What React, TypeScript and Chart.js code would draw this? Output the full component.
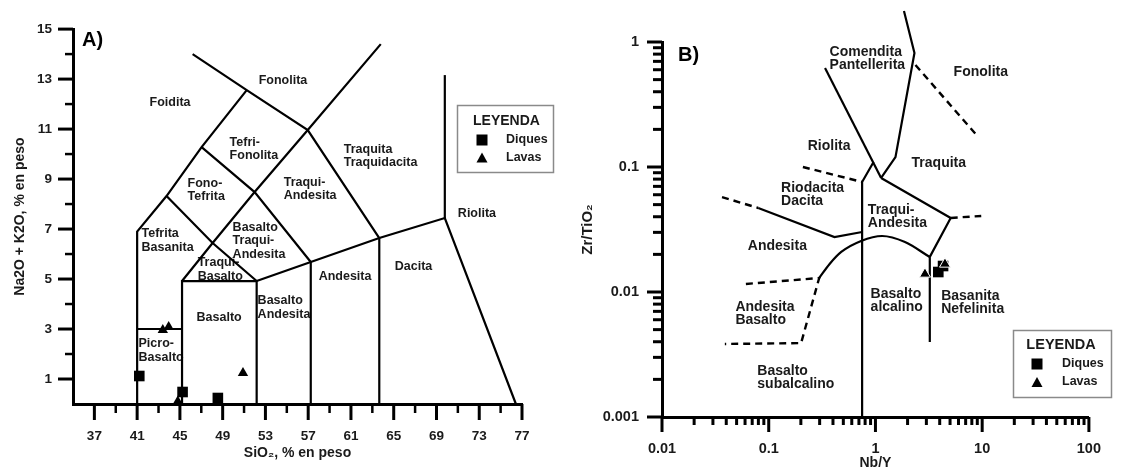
import React, { useEffect, useRef } from 'react';
import { Chart, registerables } from 'chart.js';

Chart.register(...registerables);

const FONT = '"Liberation Sans", Arial, Helvetica, sans-serif';
const TXT = '#1a1a1a';

// ---------------- Panel A: TAS diagram ----------------
const tasXLabels = [37, 41, 45, 49, 53, 57, 61, 65, 69, 73, 77];
const tasYLabels = [1, 3, 5, 7, 9, 11, 13, 15];

const diquesA_SiO2 = [41.2, 45.25, 48.55];
const diquesA_Alk = [1.12, 0.48, 0.24];
const lavasA_SiO2 = [43.4, 43.95, 44.8, 50.9];
const lavasA_Alk = [2.96, 3.08, 0.1, 1.24];

const tasFoiditeLine = [[41, 0], [41, 6.9], [43.75, 8.32], [47.03, 10.28], [51.25, 12.56]];
const tasPhonoliteLine = [[46.19, 14.0], [51.25, 12.56], [56.96, 10.96], [63.65, 6.64]];
const tasTephriteLine = [[43.75, 8.32], [48.06, 6.44], [52.18, 4.92]];
const tasPhonotephLine = [[47.03, 10.28], [51.99, 8.48], [57.24, 5.68]];
const tasDiagonalLine = [[45.2, 4.92], [48.06, 6.44], [51.99, 8.48], [56.96, 10.96], [63.79, 14.4]];
const tasPicroTop = [[41, 3.0], [45.2, 3.0]];
const tasBasaltBox = [[45.2, 0], [45.2, 4.92], [52.18, 4.92], [52.18, 0]];
const tasSubalkLine = [[52.18, 4.92], [57.24, 5.68], [63.65, 6.64], [69.78, 7.44], [76.43, 0]];
const tasAndesiteLeft = [[57.24, 0], [57.24, 5.68]];
const tasDaciteLeft = [[63.65, 0], [63.65, 6.64]];
const tasRhyoliteLine = [[69.78, 7.44], [69.78, 13.16]];

const tasFields = [
  { t: ['Foidita'], x: 42.16, y: 12.08 },
  { t: ['Fonolita'], x: 52.37, y: 12.96 },
  { t: ['Tefri-', 'Fonolita'], x: 49.65, y: 10.48 },
  { t: ['Fono-', 'Tefrita'], x: 45.72, y: 8.84 },
  { t: ['Tefrita', 'Basanita'], x: 41.41, y: 6.8 },
  { t: ['Basalto', 'Traqui-', 'Andesita'], x: 49.93, y: 7.08 },
  { t: ['Traqui-', 'Basalto'], x: 46.66, y: 5.64 },
  { t: ['Basalto'], x: 46.56, y: 3.44 },
  { t: ['Picro-', 'Basalto'], x: 41.13, y: 2.4 },
  { t: ['Basalto', 'Andesita'], x: 52.27, y: 4.12 },
  { t: ['Andesita'], x: 57.98, y: 5.08 },
  { t: ['Dacita'], x: 65.1, y: 5.48 },
  { t: ['Riolita'], x: 71.0, y: 7.64 },
  { t: ['Traqui-', 'Andesita'], x: 54.71, y: 8.88 },
  { t: ['Traquita', 'Traquidacita'], x: 60.33, y: 10.2 },
];

// ---------------- Panel B: Zr/TiO2 vs Nb/Y ----------------
const wfXLabels = [0.01, 0.1, 1, 10, 100];
const wfYLabels = [0.001, 0.01, 0.1, 1];

const diquesB_NbY = [3.88, 4.3];
const diquesB_ZrTi = [0.01445, 0.01614];
const lavasB_NbY = [2.91, 4.48];
const lavasB_ZrTi = [0.01393, 0.01675];

const wfComenditeRight = [[1.85, 1.77], [2.32, 0.817], [1.54, 0.12], [1.13, 0.0817]];
const wfComenditeLeft = [[0.337, 0.619], [1.13, 0.0817]];
const wfTrachyteBase = [[1.13, 0.0817], [5.07, 0.0391], [3.23, 0.0191], [3.23, 0.00398]];
const wfAlkaliLine = [[0.96, 0.1096], [0.75, 0.0759], [0.75, 0.001]];
const wfAndesiteTop = [[0.0798, 0.047], [0.413, 0.0275], [0.75, 0.0302]];
const wfBasaltCurve = [[0.297, 0.01294], [0.372, 0.01675], [0.478, 0.0209], [0.734, 0.0256], [1.155, 0.02805], [1.89, 0.0251], [3.23, 0.01905]];
const wfRhyoDash = [[0.209, 0.1], [0.75, 0.0759]];
const wfPhonoDash = [[2.37, 0.655], [8.84, 0.1803]];
const wfTrachyDash = [[5.07, 0.0391], [9.8, 0.0406]];
const wfAndesiteDash = [[0.0365, 0.0575], [0.0798, 0.047]];
const wfBasAndDash = [[0.0611, 0.01159], [0.297, 0.01294], [0.201, 0.0039], [0.0388, 0.00384]];

const wfFields = [
  { t: ['Comendita', 'Pantellerita'], x: 0.372, y: 0.832 },
  { t: ['Fonolita'], x: 5.4, y: 0.575 },
  { t: ['Riolita'], x: 0.232, y: 0.147 },
  { t: ['Traquita'], x: 2.18, y: 0.1076 },
  { t: ['Riodacita', 'Dacita'], x: 0.1306, y: 0.0679 },
  { t: ['Traqui-', 'Andesita'], x: 0.849, y: 0.0453 },
  { t: ['Andesita'], x: 0.0637, y: 0.0233 },
  { t: ['Andesita', 'Basalto'], x: 0.0487, y: 0.00759 },
  { t: ['Basalto', 'subalcalino'], x: 0.0782, y: 0.00233 },
  { t: ['Basalto', 'alcalino'], x: 0.901, y: 0.00964 },
  { t: ['Basanita', 'Nefelinita'], x: 4.13, y: 0.00929 },
];

const legendTitle = 'LEYENDA';
const seriesNames = ['Diques', 'Lavas'];

// ---------------- helpers ----------------
const toPts = (arr: number[][]) => arr.map(([x, y]) => ({ x, y }));
const zip = (xs: number[], ys: number[]) => xs.map((x, i) => ({ x, y: ys[i] }));

function lineDS(pts: number[][], dashed = false, smooth = false, width = 2.2) {
  return {
    data: toPts(pts),
    showLine: true,
    pointRadius: 0,
    borderColor: '#000',
    borderWidth: width,
    borderDash: dashed ? [7, 5] : [],
    tension: 0,
    cubicInterpolationMode: smooth ? 'monotone' : 'default',
    clip: false,
    fill: false,
    order: 5,
  };
}

const isPow10 = (v: number) => Math.abs(Math.log10(v) - Math.round(Math.log10(v))) < 1e-6;
const isNiceLog = (v: number) => {
  const e = Math.floor(Math.log10(v) + 1e-9);
  const m = v / Math.pow(10, e);
  return Math.abs(m - Math.round(m)) < 1e-6;
};

function tickPlugin(cfg: any) {
  return {
    id: 'customTicks',
    afterDraw(chart: any) {
      const ctx = chart.ctx;
      const xs = chart.scales.x;
      const ys = chart.scales.y;
      const area = chart.chartArea;
      ctx.save();
      ctx.strokeStyle = '#000';
      ctx.lineCap = 'butt';
      for (const t of xs.ticks) {
        const v = t.value;
        if (!cfg.xKeep(v)) continue;
        const maj = cfg.xMajor(v);
        const px = xs.getPixelForValue(v);
        ctx.lineWidth = maj ? cfg.w[0] : cfg.w[1];
        ctx.beginPath();
        ctx.moveTo(px, area.bottom);
        ctx.lineTo(px, area.bottom + (maj ? cfg.xLen[0] : cfg.xLen[1]));
        ctx.stroke();
      }
      for (const t of ys.ticks) {
        const v = t.value;
        if (!cfg.yKeep(v)) continue;
        const maj = cfg.yMajor(v);
        const py = ys.getPixelForValue(v);
        ctx.lineWidth = maj ? cfg.w[0] : cfg.w[1];
        ctx.beginPath();
        ctx.moveTo(area.left, py);
        ctx.lineTo(area.left - (maj ? cfg.yLen[0] : cfg.yLen[1]), py);
        ctx.stroke();
      }
      ctx.restore();
    },
  };
}

function labelPlugin(fields: any[], size: number, gap: number, panel: string, panelPos: number[]) {
  return {
    id: 'fieldLabels',
    beforeDatasetsDraw(chart: any) {
      const ctx = chart.ctx;
      const xs = chart.scales.x;
      const ys = chart.scales.y;
      ctx.save();
      ctx.fillStyle = TXT;
      ctx.textAlign = 'left';
      ctx.textBaseline = 'middle';
      ctx.font = `bold ${size}px ${FONT}`;
      for (const f of fields) {
        const px = xs.getPixelForValue(f.x);
        const py = ys.getPixelForValue(f.y);
        f.t.forEach((line: string, i: number) => ctx.fillText(line, px, py + i * gap));
      }
      ctx.font = `bold 20px ${FONT}`;
      ctx.fillStyle = '#000';
      ctx.fillText(panel, panelPos[0], panelPos[1]);
      ctx.restore();
    },
  };
}

function legendPlugin(L: any) {
  return {
    id: 'boxLegend',
    afterDraw(chart: any) {
      const ctx = chart.ctx;
      ctx.save();
      ctx.strokeStyle = '#8a8a8a';
      ctx.lineWidth = 1.5;
      ctx.strokeRect(L.x, L.y, L.w, L.h);
      ctx.fillStyle = TXT;
      ctx.textBaseline = 'middle';
      ctx.font = `bold ${L.titleSize}px ${FONT}`;
      ctx.textAlign = L.titleAlign;
      ctx.fillText(legendTitle, L.titleX, L.titleY);
      ctx.textAlign = 'left';
      ctx.font = `bold ${L.itemSize}px ${FONT}`;
      ctx.fillStyle = '#000';
      const s = L.sq;
      ctx.fillRect(L.mx - s / 2, L.row1 - s / 2, s, s);
      const tw = L.tw, th = L.th;
      ctx.beginPath();
      ctx.moveTo(L.mx, L.row2 - th / 2);
      ctx.lineTo(L.mx + tw / 2, L.row2 + th / 2);
      ctx.lineTo(L.mx - tw / 2, L.row2 + th / 2);
      ctx.closePath();
      ctx.fill();
      ctx.fillStyle = TXT;
      ctx.fillText(seriesNames[0], L.tx, L.row1);
      ctx.fillText(seriesNames[1], L.tx, L.row2);
      ctx.restore();
    },
  };
}

const tickFont = (size: number) => ({ family: FONT, size, weight: 'bold' as const });

function buildA(): any {
  return {
    type: 'scatter',
    data: {
      datasets: [
        { label: seriesNames[0], data: zip(diquesA_SiO2, diquesA_Alk), pointStyle: 'rect', pointRadius: 7.5, backgroundColor: '#000', borderColor: '#000', borderWidth: 0, clip: false, order: 0 },
        { label: seriesNames[1], data: zip(lavasA_SiO2, lavasA_Alk), pointStyle: 'triangle', pointRadius: 6, backgroundColor: '#000', borderColor: '#000', borderWidth: 0, clip: false, order: 0 },
        lineDS(tasFoiditeLine),
        lineDS(tasPhonoliteLine),
        lineDS(tasTephriteLine),
        lineDS(tasPhonotephLine),
        lineDS(tasDiagonalLine),
        lineDS(tasPicroTop),
        lineDS(tasBasaltBox),
        lineDS(tasSubalkLine),
        lineDS(tasAndesiteLeft),
        lineDS(tasDaciteLeft),
        lineDS(tasRhyoliteLine),
      ],
    },
    options: {
      responsive: false,
      animation: false,
      events: [],
      layout: { padding: { left: 0, top: 28, right: 38, bottom: 0 } },
      plugins: { legend: { display: false }, tooltip: { enabled: false } },
      scales: {
        x: {
          type: 'linear', min: 35, max: 77,
          afterFit: (s: any) => { s.height = 64; },
          grid: { display: false, drawTicks: false },
          border: { display: true, color: '#000', width: 3 },
          ticks: {
            stepSize: 2, autoSkip: false, maxRotation: 0, minRotation: 0, padding: 24,
            color: TXT, font: tickFont(13.5),
            callback: (v: number) => (tasXLabels.includes(v) ? String(v) : ''),
          },
          title: { display: true, text: 'SiO₂, % en peso', color: TXT, font: tickFont(14), padding: { top: 0, bottom: 6.6 } },
        },
        y: {
          type: 'linear', min: 0, max: 15,
          afterFit: (s: any) => { s.width = 73; },
          grid: { display: false, drawTicks: false },
          border: { display: true, color: '#000', width: 3 },
          ticks: {
            stepSize: 1, autoSkip: false, padding: 21,
            color: TXT, font: tickFont(13.5),
            callback: (v: number) => (tasYLabels.includes(v) ? String(v) : ''),
          },
          title: { display: true, text: 'Na2O + K2O, % en peso', color: TXT, font: tickFont(14), padding: { top: 11.6, bottom: 0 } },
        },
      },
    },
    plugins: [
      tickPlugin({
        xKeep: (v: number) => v !== 35, xMajor: (v: number) => tasXLabels.includes(v),
        yKeep: (v: number) => v !== 0, yMajor: (v: number) => tasYLabels.includes(v),
        xLen: [16, 9], yLen: [15, 8], w: [3, 2.5],
      }),
      labelPlugin(tasFields, 12.5, 13.5, 'A)', [82, 40]),
      legendPlugin({
        x: 457.5, y: 105.5, w: 96, h: 67,
        titleSize: 14, titleAlign: 'left', titleX: 473, titleY: 121,
        itemSize: 12.5, mx: 482, row1: 140, row2: 157.5, tx: 506,
        sq: 11, tw: 11, th: 10,
      }),
    ],
  };
}

function buildB(): any {
  return {
    type: 'scatter',
    data: {
      datasets: [
        { label: seriesNames[1], data: zip(lavasB_NbY, lavasB_ZrTi), pointStyle: 'triangle', pointRadius: 6.3, backgroundColor: '#000', borderColor: '#fff', borderWidth: 1, clip: false, order: 0 },
        { label: seriesNames[0], data: zip(diquesB_NbY, diquesB_ZrTi), pointStyle: 'rect', pointRadius: 7.5, backgroundColor: '#000', borderColor: '#000', borderWidth: 0, clip: false, order: 1 },
        lineDS(wfComenditeRight),
        lineDS(wfComenditeLeft),
        lineDS(wfTrachyteBase),
        lineDS(wfAlkaliLine),
        lineDS(wfAndesiteTop),
        lineDS(wfBasaltCurve, false, true),
        lineDS(wfRhyoDash, true, false, 2.4),
        lineDS(wfPhonoDash, true, false, 2.4),
        lineDS(wfTrachyDash, true, false, 2.4),
        lineDS(wfAndesiteDash, true, false, 2.4),
        lineDS(wfBasAndDash, true, false, 2.4),
      ],
    },
    options: {
      responsive: false,
      animation: false,
      events: [],
      layout: { padding: { left: 0, top: 42, right: 14, bottom: 0 } },
      plugins: { legend: { display: false }, tooltip: { enabled: false } },
      scales: {
        x: {
          type: 'logarithmic', min: 0.01, max: 100,
          afterFit: (s: any) => { s.height = 63; },
          grid: { display: false, drawTicks: false },
          border: { display: true, color: '#000', width: 3 },
          ticks: {
            autoSkip: false, maxRotation: 0, minRotation: 0, padding: 23,
            color: TXT, font: tickFont(14.5),
            callback: (v: number) => (isPow10(v) && wfXLabels.some((l) => Math.abs(Math.log10(l) - Math.log10(v)) < 1e-6) ? String(Math.pow(10, Math.round(Math.log10(v)))) : ''),
          },
          title: { display: true, text: 'Nb/Y', color: TXT, font: tickFont(14), padding: { top: 0, bottom: 8.6 } },
        },
        y: {
          type: 'logarithmic', min: 0.001, max: 1,
          afterFit: (s: any) => { s.width = 102; },
          grid: { display: false, drawTicks: false },
          border: { display: true, color: '#000', width: 3 },
          ticks: {
            autoSkip: false, padding: 23,
            color: TXT, font: tickFont(14.5),
            callback: (v: number) => (isPow10(v) && wfYLabels.some((l) => Math.abs(Math.log10(l) - Math.log10(v)) < 1e-6) ? String(Math.pow(10, Math.round(Math.log10(v)))) : ''),
          },
          title: { display: true, text: 'Zr/TiO₂', color: TXT, font: tickFont(15), padding: { top: 19, bottom: 0 } },
        },
      },
    },
    plugins: [
      tickPlugin({
        xKeep: (v: number) => isNiceLog(v), xMajor: (v: number) => isPow10(v),
        yKeep: (v: number) => isNiceLog(v), yMajor: (v: number) => isPow10(v),
        xLen: [15, 8], yLen: [15, 9], w: [3, 3],
      }),
      labelPlugin(wfFields, 14, 13.5, 'B)', [118, 55]),
      legendPlugin({
        x: 453.5, y: 330.5, w: 98, h: 67,
        titleSize: 14.5, titleAlign: 'center', titleX: 501, titleY: 345,
        itemSize: 12.5, mx: 477, row1: 364, row2: 382, tx: 502,
        sq: 11, tw: 11, th: 10,
      }),
    ],
  };
}

export default function App() {
  const refA = useRef<HTMLCanvasElement>(null);
  const refB = useRef<HTMLCanvasElement>(null);
  useEffect(() => {
    const a = new Chart(refA.current as HTMLCanvasElement, buildA());
    const b = new Chart(refB.current as HTMLCanvasElement, buildB());
    return () => {
      a.destroy();
      b.destroy();
    };
  }, []);
  return (
    <div style={{ position: 'absolute', left: 0, top: 0, width: 1124, height: 468, overflow: 'hidden', background: '#fff' }}>
      <canvas ref={refA} width={560} height={468} style={{ position: 'absolute', left: 0, top: 0, width: 560, height: 468 }} />
      <canvas ref={refB} width={564} height={480} style={{ position: 'absolute', left: 560, top: 0, width: 564, height: 480 }} />
    </div>
  );
}
